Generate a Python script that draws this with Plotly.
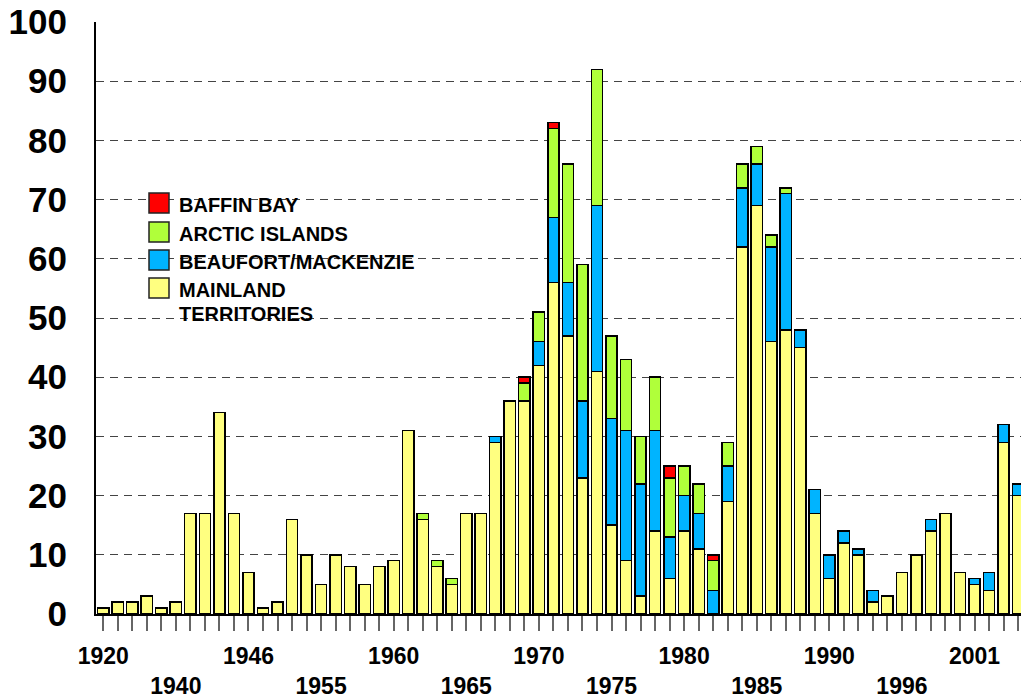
import plotly.graph_objects as go

# ---------------- data ----------------
year_labels = ["1920", "1940", "1946", "1955", "1960", "1965", "1970",
               "1975", "1980", "1985", "1990", "1996", "2001"]
label_every = 5  # one year label every 5 bars

mainland = [1, 2, 2, 3, 1, 2, 17, 17, 34, 17,
            7, 1, 2, 16, 10, 5, 10, 8, 5, 8,
            9, 31, 16, 8, 5, 17, 17, 29, 36, 36,
            42, 56, 47, 23, 41, 15, 9, 3, 14, 6,
            14, 11, 0, 19, 62, 69, 46, 48, 45, 17,
            6, 12, 10, 2, 3, 7, 10, 14, 17, 7,
            5, 4, 29, 20]
beaufort = [0, 0, 0, 0, 0, 0, 0, 0, 0, 0,
            0, 0, 0, 0, 0, 0, 0, 0, 0, 0,
            0, 0, 0, 0, 0, 0, 0, 1, 0, 0,
            4, 11, 9, 13, 28, 18, 22, 19, 17, 7,
            6, 6, 4, 6, 10, 7, 16, 23, 3, 4,
            4, 2, 1, 2, 0, 0, 0, 2, 0, 0,
            1, 3, 3, 2]
arctic = [0, 0, 0, 0, 0, 0, 0, 0, 0, 0,
          0, 0, 0, 0, 0, 0, 0, 0, 0, 0,
          0, 0, 1, 1, 1, 0, 0, 0, 0, 3,
          5, 15, 20, 23, 23, 14, 12, 8, 9, 10,
          5, 5, 5, 4, 4, 3, 2, 1, 0, 0,
          0, 0, 0, 0, 0, 0, 0, 0, 0, 0,
          0, 0, 0, 0]
baffin = [0, 0, 0, 0, 0, 0, 0, 0, 0, 0,
          0, 0, 0, 0, 0, 0, 0, 0, 0, 0,
          0, 0, 0, 0, 0, 0, 0, 0, 0, 1,
          0, 1, 0, 0, 0, 0, 0, 0, 0, 2,
          0, 0, 1, 0, 0, 0, 0, 0, 0, 0,
          0, 0, 0, 0, 0, 0, 0, 0, 0, 0,
          0, 0, 0, 0]

series_names = ["MAINLAND TERRITORIES", "BEAUFORT/MACKENZIE", "ARCTIC ISLANDS", "BAFFIN BAY"]
series_values = [mainland, beaufort, arctic, baffin]
series_colors = ["#FFFF80", "#00B4FF", "#B0FF3A", "#FF0000"]

# ---------------- figure ----------------
FONT = "Liberation Sans, Arial, Helvetica, sans-serif"
n = len(mainland)
x = list(range(n))

fig = go.Figure()
for name, vals, col in zip(series_names, series_values, series_colors):
    fig.add_trace(go.Bar(
        x=x, y=[v if v else None for v in vals], name=name,
        marker=dict(color=col, line=dict(color="black", width=1.5)),
        showlegend=False,
    ))

ticktext = []
for i in x:
    k = i // label_every
    if i % label_every == 0 and k < len(year_labels):
        lab = year_labels[k]
        ticktext.append(lab if k % 2 == 0 else "<br>" + lab)
    else:
        ticktext.append("")

W, H = 1021, 698
PL, PR, PT, PB = 96, 1021, 22, 614

fig.update_layout(
    width=W, height=H,
    margin=dict(l=PL, r=W - PR, t=PT, b=H - PB, pad=0),
    barmode="stack", bargap=0.22,
    plot_bgcolor="white", paper_bgcolor="white",
    showlegend=False,
    font=dict(family=FONT, color="black"),
)
fig.update_xaxes(
    range=[-0.5, 63.2], tickmode="array", tickvals=x, ticktext=ticktext,
    ticks="outside", ticklen=15, tickwidth=1.5, tickcolor="#666666",
    showline=True, linecolor="black", linewidth=2, showgrid=False,
    zeroline=False, tickangle=0, ticklabelstandoff=5,
    tickfont=dict(family=FONT, size=23, color="black", weight="bold"),
)
fig.update_yaxes(
    range=[0, 100], dtick=10, tick0=0,
    showline=True, linecolor="black", linewidth=2,
    showgrid=True, gridcolor="#444444", gridwidth=1.3, griddash="8px,6px",
    zeroline=False, ticks="", ticklabelstandoff=20,
    tickfont=dict(family=FONT, size=35, color="black", weight="bold"),
)

# ---------------- legend (drawn manually for large swatches) ----------------
def px(xp):
    return (xp - PL) / (PR - PL)

def py(yp):
    return (PB - yp) / (PB - PT)

legend_items = [("BAFFIN BAY", "#FF0000", 193),
                ("ARCTIC ISLANDS", "#B0FF3A", 222),
                ("BEAUFORT/MACKENZIE", "#00B4FF", 250),
                ("MAINLAND", "#FFFF80", 278)]
for label, col, top in legend_items:
    fig.add_shape(type="rect", xref="paper", yref="paper",
                  x0=px(149), x1=px(169), y0=py(top + 20), y1=py(top),
                  fillcolor=col, line=dict(color="#222222", width=1.5), layer="above")
    fig.add_annotation(xref="paper", yref="paper", x=px(177), y=py(top + 12),
                       text=label, showarrow=False, xanchor="left", yanchor="middle",
                       font=dict(family=FONT, size=20, color="black", weight="bold"))
fig.add_annotation(xref="paper", yref="paper", x=px(177), y=py(278 + 36),
                   text="TERRITORIES", showarrow=False, xanchor="left", yanchor="middle",
                   font=dict(family=FONT, size=20, color="black", weight="bold"))

fig.write_html("out.html", config={"displayModeBar": False},
               post_script="document.body.style.margin='0';")
